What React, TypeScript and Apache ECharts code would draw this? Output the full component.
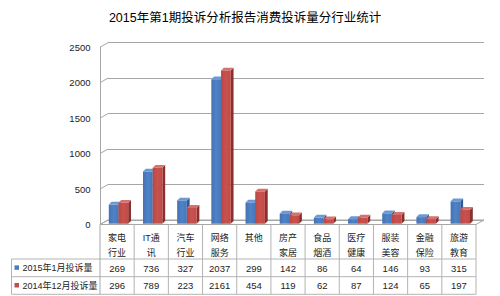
import React, { useEffect, useRef } from "react";
import * as echarts from "echarts";

const chartTitle = "2015年第1期投诉分析报告消费投诉量分行业统计";
const categories = [
  "家电\n行业",
  "IT通\n讯",
  "汽车\n行业",
  "网络\n服务",
  "其他",
  "房产\n家居",
  "食品\n烟酒",
  "医疗\n健康",
  "服装\n美容",
  "金融\n保险",
  "旅游\n教育",
];
const seriesNames = ["2015年1月投诉量", "2014年12月投诉量"];
const jan2015 = [269, 736, 327, 2037, 299, 142, 86, 64, 146, 93, 315];
const dec2014 = [296, 789, 223, 2161, 454, 119, 62, 87, 124, 65, 197];
const yTicks = [0, 500, 1000, 1500, 2000, 2500];

const FONT = "'Liberation Sans', 'Noto Sans CJK SC', sans-serif";
const LINE = "#b4b4b4";
const GRID_LINE = "#a6a6a6";

const FRONT_LEFT = 100;
const FRONT_TOP = 47.2;
const PLOT_W = 376;
const PLOT_H = 177.3;
const DEPTH_X = 8;
const DEPTH_Y = 4.5;
const ROW1 = 259;
const ROW2 = 276.7;
const ROW3 = 294.3;
const LEG_LEFT = 11.5;

const blueSet = {
  front: new echarts.graphic.LinearGradient(0, 0, 1, 0, [
    { offset: 0, color: "#4472b5" },
    { offset: 0.5, color: "#4f82c6" },
    { offset: 1, color: "#4677bb" },
  ]),
  side: "#2f5a94",
  top: "#6d98d4",
};
const redSet = {
  front: new echarts.graphic.LinearGradient(0, 0, 1, 0, [
    { offset: 0, color: "#b84845" },
    { offset: 0.5, color: "#c9514e" },
    { offset: 1, color: "#bf4b48" },
  ]),
  side: "#8a2f2d",
  top: "#d6716e",
};

function box(x: number, yTop: number, y0: number, w: number, set: any) {
  const dx = 2.8;
  const dy = 2.8;
  return [
    {
      type: "polygon",
      shape: { points: [[x + w, yTop], [x + w + dx, yTop - dy], [x + w + dx, y0 - dy], [x + w, y0]] },
      style: { fill: set.side },
    },
    {
      type: "polygon",
      shape: { points: [[x, yTop], [x + dx, yTop - dy], [x + w + dx, yTop - dy], [x + w, yTop]] },
      style: { fill: set.top },
    },
    {
      type: "rect",
      shape: { x, y: yTop, width: w, height: y0 - yTop },
      style: { fill: set.front },
    },
  ];
}

export default function App() {
  const ref = useRef<HTMLDivElement>(null);
  useEffect(() => {
    const chart = echarts.init(ref.current!, null, { renderer: "svg" });
    const option: any = {
      animation: false,
      grid: [
        { left: FRONT_LEFT + DEPTH_X, top: FRONT_TOP - DEPTH_Y, width: PLOT_W, height: PLOT_H },
        { left: FRONT_LEFT, top: FRONT_TOP, width: PLOT_W, height: PLOT_H },
      ],
      xAxis: [
        { gridIndex: 0, type: "category", data: categories, show: false },
        { gridIndex: 1, type: "category", data: categories, show: false },
      ],
      yAxis: [
        {
          gridIndex: 0,
          type: "value",
          min: 0,
          max: 2500,
          interval: 500,
          axisLine: { show: false },
          axisTick: { show: false },
          axisLabel: { show: false },
          splitLine: { show: true, lineStyle: { color: GRID_LINE, width: 1 } },
        },
        {
          gridIndex: 1,
          type: "value",
          min: 0,
          max: 2500,
          interval: 500,
          axisLine: { show: true, lineStyle: { color: GRID_LINE, width: 1 } },
          axisTick: { show: false },
          axisLabel: {
            show: true,
            fontSize: 9.5,
            color: "#222",
            margin: 9.5,
            fontFamily: FONT,
            formatter: (v: number) => String(v),
          },
          splitLine: { show: false },
        },
      ],
      series: [
        {
          type: "custom",
          name: "ticks",
          xAxisIndex: 1,
          yAxisIndex: 1,
          silent: true,
          clip: false,
          data: yTicks.map((v) => [0, v]),
          encode: { x: 0, y: 1 },
          renderItem: (params: any, api: any) => {
            const p = api.coord([0, api.value(1)]);
            const x = params.coordSys.x;
            return {
              type: "line",
              shape: { x1: x, y1: p[1], x2: x + DEPTH_X, y2: p[1] - DEPTH_Y },
              style: { stroke: GRID_LINE, lineWidth: 1 },
            };
          },
        },
        {
          type: "custom",
          name: "bars",
          xAxisIndex: 1,
          yAxisIndex: 1,
          silent: true,
          clip: false,
          data: categories.map((_, i) => [i, jan2015[i], dec2014[i]]),
          encode: { x: 0, y: [1, 2] },
          renderItem: (params: any, api: any) => {
            const i = api.value(0);
            const base = api.coord([i, 0]);
            const cx = base[0];
            const y0 = base[1] - 0.8;
            const yb = api.coord([i, api.value(1)])[1] - 0.8;
            const yr = api.coord([i, api.value(2)])[1] - 0.8;
            const w = 9.7;
            return {
              type: "group",
              children: [...box(cx - 8.3, yb, y0, w, blueSet), ...box(cx + 1.4, yr, y0, w, redSet)],
            };
          },
        },
        {
          type: "custom",
          name: "table",
          xAxisIndex: 1,
          yAxisIndex: 1,
          silent: true,
          clip: false,
          data: categories.map((_, i) => [i, 0]),
          encode: { x: 0, y: 1 },
          renderItem: (params: any, api: any) => {
            const i = api.value(0);
            const cx = api.coord([i, 0])[0];
            const bw = api.size([1, 0])[0];
            const top = params.coordSys.y + params.coordSys.height;
            const txt = (t: string, y: number, size: number, va: string) => ({
              type: "text",
              style: {
                text: t,
                x: cx,
                y,
                fill: "#222",
                fontSize: size,
                fontFamily: FONT,
                lineHeight: 15,
                align: "center",
                textAlign: "center",
                verticalAlign: va,
                textVerticalAlign: va,
              },
            });
            const children: any[] = [
              txt(categories[i], top + 5.5, 9, "top"),
              txt(String(jan2015[i]), (ROW1 + ROW2) / 2 + 0.3, 9.5, "middle"),
              txt(String(dec2014[i]), (ROW2 + ROW3) / 2 + 0.3, 9.5, "middle"),
              {
                type: "line",
                shape: { x1: cx + bw / 2, y1: top, x2: cx + bw / 2, y2: ROW3 },
                style: { stroke: LINE, lineWidth: 1 },
              },
            ];
            if (i === 0) {
              children.push({
                type: "line",
                shape: { x1: cx - bw / 2, y1: top, x2: cx - bw / 2, y2: ROW3 },
                style: { stroke: GRID_LINE, lineWidth: 1 },
              });
            }
            return { type: "group", children };
          },
        },
      ],
      graphic: [
        {
          type: "text",
          x: 245,
          y: 17.5,
          style: {
            text: chartTitle,
            fill: "#000",
            fontSize: 12.5,
            fontFamily: FONT,
            align: "center",
            textAlign: "center",
            verticalAlign: "middle",
            textVerticalAlign: "middle",
          },
        },
        {
          type: "polygon",
          z: 1,
          shape: {
            points: [
              [FRONT_LEFT, FRONT_TOP + PLOT_H],
              [FRONT_LEFT + PLOT_W, FRONT_TOP + PLOT_H],
              [FRONT_LEFT + PLOT_W + DEPTH_X, FRONT_TOP + PLOT_H - DEPTH_Y],
              [FRONT_LEFT + DEPTH_X, FRONT_TOP + PLOT_H - DEPTH_Y],
            ],
          },
          style: { fill: "none", stroke: GRID_LINE, lineWidth: 1 },
        },
        ...[ROW1, ROW2, ROW3].map((y) => ({
          type: "line",
          z: 1,
          shape: { x1: LEG_LEFT, y1: y, x2: FRONT_LEFT + PLOT_W, y2: y },
          style: { stroke: LINE, lineWidth: 1 },
        })),
        {
          type: "line",
          z: 1,
          shape: { x1: LEG_LEFT, y1: ROW1, x2: LEG_LEFT, y2: ROW3 },
          style: { stroke: LINE, lineWidth: 1 },
        },
        ...seriesNames.flatMap((name, k) => {
          const yc = k === 0 ? (ROW1 + ROW2) / 2 : (ROW2 + ROW3) / 2;
          return [
            {
              type: "rect",
              z: 1,
              shape: { x: 14.5, y: yc - 2.5, width: 4.5, height: 4.5 },
              style: { fill: k === 0 ? "#4a7cc0" : "#c24d4a" },
            },
            {
              type: "text",
              z: 1,
              x: 22.5,
              y: yc + 0.3,
              style: {
                text: name,
                fill: "#222",
                fontSize: 9,
                fontFamily: FONT,
                align: "left",
                textAlign: "left",
                verticalAlign: "middle",
                textVerticalAlign: "middle",
              },
            },
          ];
        }),
      ],
    };
    chart.setOption(option);
    return () => chart.dispose();
  }, []);
  return <div ref={ref} style={{ position: "absolute", left: 0, top: 0, width: 500, height: 296 }} />;
}
